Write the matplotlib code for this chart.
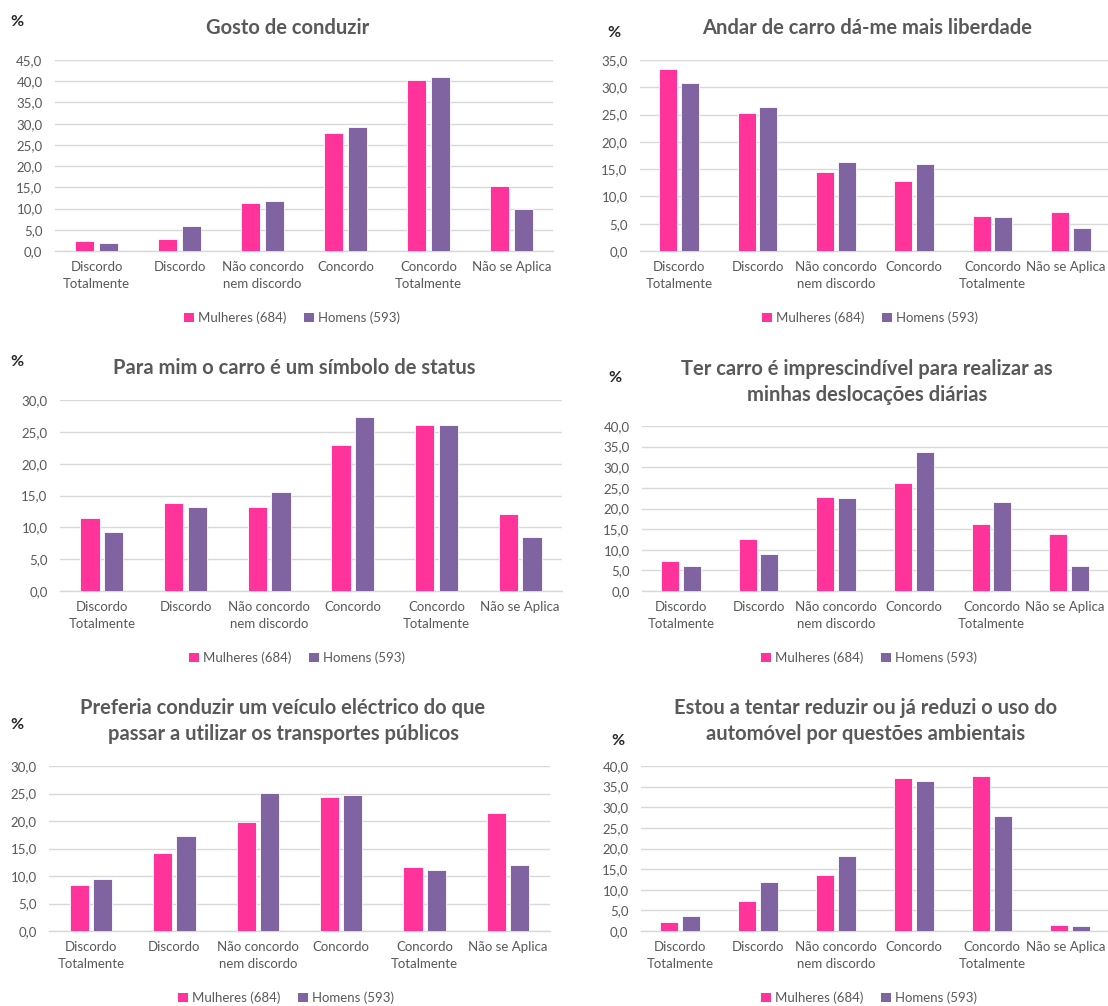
import matplotlib
matplotlib.use("Agg")
import matplotlib.pyplot as plt
import matplotlib.transforms as mtransforms
from matplotlib.patches import Patch
from matplotlib.ticker import FuncFormatter, MultipleLocator

plt.rcParams['font.family'] = ['Lato', 'DejaVu Sans']

# ---- data -------------------------------------------------------------
categories = ["Discordo\nTotalmente", "Discordo", "Não concordo\nnem discordo",
              "Concordo", "Concordo\nTotalmente", "Não se Aplica"]
series_names = ["Mulheres (684)", "Homens (593)"]

title_gosto = "Gosto de conduzir"
gosto_mulheres = [2.4, 2.9, 11.2, 27.9, 40.4, 15.3]
gosto_homens = [2.0, 5.8, 11.7, 29.3, 40.9, 9.8]

title_liberdade = "Andar de carro dá-me mais liberdade"
liberdade_mulheres = [33.4, 25.3, 14.5, 12.8, 6.5, 7.2]
liberdade_homens = [30.8, 26.4, 16.3, 16.0, 6.3, 4.3]

title_status = "Para mim o carro é um símbolo de status"
status_mulheres = [11.5, 13.9, 13.2, 23.0, 26.0, 12.1]
status_homens = [9.3, 13.2, 15.6, 27.3, 26.0, 8.5]

title_imprescindivel = "Ter carro é imprescindível para realizar as\nminhas deslocações diárias"
imprescindivel_mulheres = [7.2, 12.6, 22.9, 26.3, 16.3, 13.7]
imprescindivel_homens = [6.0, 9.0, 22.6, 33.8, 21.5, 6.0]

title_electrico = "Preferia conduzir um veículo eléctrico do que\npassar a utilizar os transportes públicos"
electrico_mulheres = [8.3, 14.2, 19.8, 24.3, 11.6, 21.5]
electrico_homens = [9.4, 17.2, 25.1, 24.7, 11.1, 12.0]

title_ambiente = "Estou a tentar reduzir ou já reduzi o uso do\nautomóvel por questões ambientais"
ambiente_mulheres = [2.3, 7.2, 13.5, 37.2, 37.5, 1.4]
ambiente_homens = [3.7, 12.0, 18.3, 36.4, 28.0, 1.1]

y_max = [45, 35, 30, 40, 30, 40]

# ---- styling ------------------------------------------------------------
W, H = 1108, 1006
PINK = "#FF3399"
PURPLE = "#8064A2"
GREY_TXT = "#595959"
GRID = "#D9D9D9"

fig = plt.figure(figsize=(W / 100, H / 100), dpi=100)
fig.patch.set_facecolor("white")

# pixel geometry of each panel: left, right, y of zero, y of top,
# title centre (x, y), percent sign (x, y), legend centre (x, y),
# horizontal nudge (px) for the last category label
panels = [
    dict(title=title_gosto, m=gosto_mulheres, h=gosto_homens,
         box=(55, 553, 251, 60), tc=(288, 28), pc=(17, 22), lc=(292, 318), nudge=0),
    dict(title=title_liberdade, m=liberdade_mulheres, h=liberdade_homens,
         box=(640, 1110, 251, 60), tc=(867, 28), pc=(614, 33), lc=(870, 318), nudge=-5),
    dict(title=title_status, m=status_mulheres, h=status_homens,
         box=(60, 562, 591, 400), tc=(294, 368), pc=(17, 362), lc=(297, 658), nudge=0),
    dict(title=title_imprescindivel, m=imprescindivel_mulheres, h=imprescindivel_homens,
         box=(642, 1108, 591, 426), tc=(867, 382), pc=(615, 378), lc=(869, 658), nudge=-4),
    dict(title=title_electrico, m=electrico_mulheres, h=electrico_homens,
         box=(49.3, 549.7, 931, 766), tc=(283, 721), pc=(17, 725), lc=(286, 998), nudge=0),
    dict(title=title_ambiente, m=ambiente_mulheres, h=ambiente_homens,
         box=(641, 1109, 931, 766), tc=(866, 721), pc=(618, 741), lc=(869, 998), nudge=-4),
]

fmt = FuncFormatter(lambda v, p: f"{v:.1f}".replace(".", ","))
x = list(range(len(categories)))
bw = 0.23
off = 0.14

for p, ymax in zip(panels, y_max):
    l, r, y0, yt = p["box"]
    ax = fig.add_axes([l / W, 1 - y0 / H, (r - l) / W, (y0 - yt) / H])
    ax.bar([i - off for i in x], p["m"], width=bw, color=PINK,
           edgecolor="white", linewidth=0.6, zorder=3)
    ax.bar([i + off for i in x], p["h"], width=bw, color=PURPLE,
           edgecolor="white", linewidth=0.6, zorder=3)
    ax.set_xlim(-0.5, len(categories) - 0.5)
    ax.set_ylim(0, ymax)
    ax.yaxis.set_major_locator(MultipleLocator(5))
    ax.yaxis.set_major_formatter(fmt)
    ax.yaxis.grid(True, color=GRID, linewidth=1.0)
    ax.set_axisbelow(True)
    for s in ("top", "right", "left"):
        ax.spines[s].set_visible(False)
    ax.spines["bottom"].set_color(GRID)
    ax.spines["bottom"].set_linewidth(1.0)
    ax.set_xticks(x)
    ax.set_xticklabels(categories, linespacing=1.45)
    ax.tick_params(axis="both", length=0, labelsize=9.5, labelcolor=GREY_TXT)
    ax.tick_params(axis="y", pad=9)
    ax.tick_params(axis="x", pad=7.5)
    if p["nudge"]:
        last = ax.get_xticklabels()[-1]
        shift = mtransforms.ScaledTranslation(p["nudge"] / 100, 0, fig.dpi_scale_trans)
        last.set_transform(last.get_transform() + shift)

    tx, ty = p["tc"]
    fig.text(tx / W, 1 - ty / H, p["title"], ha="center", va="center",
             fontsize=14.5, fontweight="bold", color=GREY_TXT, linespacing=1.4)
    px, py = p["pc"]
    fig.text(px / W, 1 - py / H, "%", ha="center", va="center",
             fontsize=11.5, fontweight="bold", color="#262626")

    handles = [Patch(facecolor=PINK, edgecolor="none", label=series_names[0]),
               Patch(facecolor=PURPLE, edgecolor="none", label=series_names[1])]
    lx, ly = p["lc"]
    ax.legend(handles=handles, loc="center", ncol=2, frameon=False,
              bbox_to_anchor=(lx / W, 1 - ly / H), bbox_transform=fig.transFigure,
              fontsize=9.5, handlelength=0.7, handleheight=0.7,
              handletextpad=0.3, columnspacing=1.4, labelcolor=GREY_TXT)

fig.savefig("out.png", dpi=100, facecolor="white")
